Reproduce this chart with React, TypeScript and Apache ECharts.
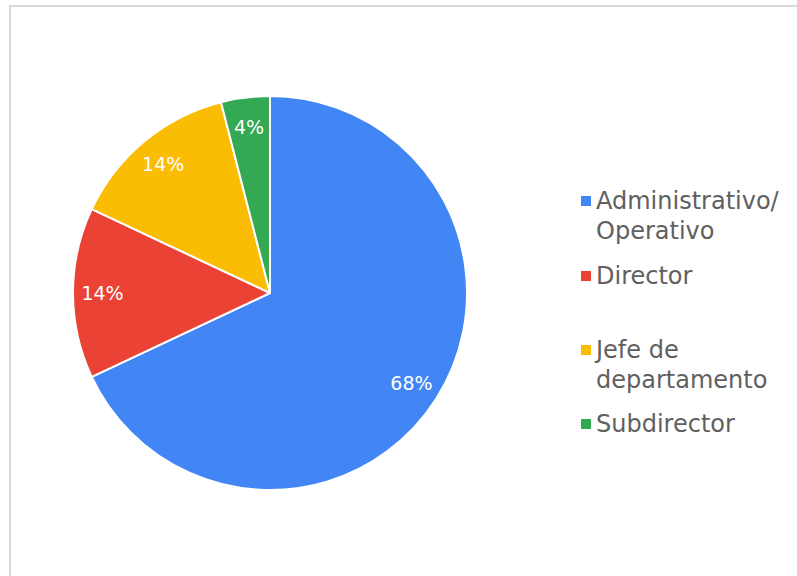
import React, { useEffect, useRef } from "react";
import * as echarts from "echarts";

const categories = ["Administrativo/\nOperativo", "Director", "Jefe de\ndepartamento", "Subdirector"];
const values = [34, 7, 7, 2];
const colors = ["#4285F4", "#EA4335", "#FBBC04", "#34A853"];
const legendLineCenters = [201, 276, 350, 424];

export default function App() {
  const ref = useRef<HTMLDivElement>(null);
  useEffect(() => {
    if (!ref.current) return;
    const chart = echarts.init(ref.current, null, { renderer: "svg" });
    const data = categories.map((name, i) => ({ name, value: values[i], itemStyle: { color: colors[i] } }));
    const legends = categories.map((name, i) => {
      const lines = name.split("\n").length;
      const multi = lines > 1;
      return {
        data: [name],
        orient: "vertical",
        left: 581,
        top: legendLineCenters[i] - 15,
        padding: 0,
        itemWidth: 10,
        itemHeight: multi ? 40 : 10,
        icon: multi ? "path://M0,0h10v10h-10zM0,39.95h0.05v0.05h-0.05z" : "rect",
        itemStyle: { borderWidth: 0 },
        selectedMode: false,
        textStyle: {
          fontFamily: "DejaVu Sans",
          fontSize: 24,
          color: "#606060",
          lineHeight: 30,
        },
      };
    });
    chart.setOption({
      animation: false,
      graphic: [
        {
          type: "rect",
          shape: { x: 10, y: 6, width: 900, height: 700 },
          style: { fill: "none", stroke: "#dadada", lineWidth: 2 },
          silent: true,
        },
      ],
      legend: legends,
      series: [
        {
          type: "pie",
          center: [270, 293],
          radius: [0, 197],
          startAngle: 90,
          clockwise: true,
          data,
          label: { show: false },
          labelLine: { show: false },
          itemStyle: { borderColor: "#ffffff", borderWidth: 2 },
          emphasis: { disabled: true },
        },
        {
          type: "pie",
          center: [270, 293],
          radius: [132, 197],
          startAngle: 90,
          clockwise: true,
          silent: true,
          data: categories.map((name, i) => ({ name, value: values[i] })),
          itemStyle: { color: "rgba(0,0,0,0)", borderWidth: 0 },
          label: {
            show: true,
            position: "inside",
            formatter: (p: any) => Math.round(p.percent) + "%",
            color: "#ffffff",
            fontFamily: "DejaVu Sans",
            fontSize: 19,
          },
          labelLine: { show: false },
          emphasis: { disabled: true },
        },
      ],
    });
    return () => chart.dispose();
  }, []);
  return (
    <div style={{ position: "fixed", left: 0, top: 0, width: 797, height: 576, background: "#fff" }}>
      <div ref={ref} style={{ width: 797, height: 576 }} />
    </div>
  );
}
